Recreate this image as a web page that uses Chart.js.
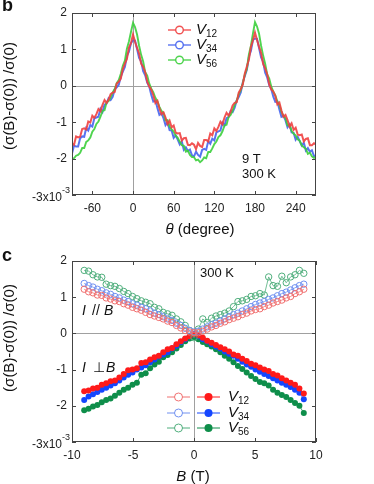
<!DOCTYPE html>
<html>
<head>
<meta charset="utf-8">
<script src="https://cdn.jsdelivr.net/npm/chart.js@4.4.0/dist/chart.umd.min.js"></script>
<style>
  html, body { margin: 0; padding: 0; background: #fff; }
  #wrap { position: relative; width: 374px; height: 484px; }
  canvas { position: absolute; left: 0; }
</style>
</head>
<body>
<div id="wrap">
  <canvas id="chartB" width="374" height="242" style="top:0"></canvas>
  <canvas id="chartC" width="374" height="242" style="top:242px"></canvas>
</div>
<script>
// panel b : angle sweep at 9 T
const thetaDeg = [
  -90,-87,-84,-81,-78,-75,-72,-69,-66,-63,
  -60,-57,-54,-51,-48,-45,-42,-39,-36,-33,
  -30,-27,-24,-21,-18,-15,-12,-9,-6,-3,
  0,3,6,9,12,15,18,21,24,27,
  30,33,36,39,42,45,48,51,54,57,
  60,63,66,69,72,75,78,81,84,87,
  90,93,96,99,102,105,108,111,114,117,
  120,123,126,129,132,135,138,141,144,147,
  150,153,156,159,162,165,168,171,174,177,
  180,183,186,189,192,195,198,201,204,207,
  210,213,216,219,222,225,228,231,234,237,
  240,243,246,249,252,255,258,261,264,267,
  270];
const v12Theta = [
  -1.58,-1.62,-1.39,-1.42,-1.40,-1.19,-1.17,-1.20,-0.98,-1.01,
  -0.82,-0.88,-0.78,-0.64,-0.70,-0.52,-0.39,-0.47,-0.38,-0.23,
  -0.19,-0.17,0.06,0.11,0.20,0.46,0.61,0.74,1.05,1.17,
  1.41,1.21,1.04,0.89,0.61,0.52,0.38,0.11,-0.02,-0.11,
  -0.26,-0.47,-0.41,-0.62,-0.78,-0.73,-0.87,-1.05,-0.96,-1.14,
  -1.09,-1.29,-1.31,-1.30,-1.50,-1.44,-1.43,-1.62,-1.63,-1.58,
  -1.62,-1.74,-1.57,-1.65,-1.68,-1.49,-1.49,-1.53,-1.31,-1.36,
  -1.17,-1.24,-1.13,-0.99,-1.06,-0.87,-0.74,-0.82,-0.71,-0.54,
  -0.47,-0.45,-0.19,-0.09,0.04,0.34,0.53,0.72,1.07,1.25,
  1.46,1.26,1.07,0.90,0.60,0.48,0.32,0.04,-0.10,-0.16,
  -0.28,-0.51,-0.46,-0.68,-0.85,-0.80,-0.94,-1.12,-1.03,-1.21,
  -1.15,-1.34,-1.36,-1.34,-1.53,-1.46,-1.44,-1.63,-1.63,-1.58,
  -1.61];
const v34Theta = [
  -1.86,-1.64,-1.67,-1.67,-1.44,-1.39,-1.40,-1.16,-1.23,-1.08,
  -1.12,-0.89,-0.87,-0.85,-0.63,-0.72,-0.52,-0.49,-0.34,-0.39,
  -0.30,-0.10,-0.04,0.03,0.25,0.39,0.52,0.82,0.94,1.17,
  1.25,1.24,1.01,0.77,0.67,0.40,0.29,0.09,-0.02,-0.25,
  -0.43,-0.40,-0.61,-0.80,-0.76,-0.89,-1.08,-1.00,-1.22,-1.23,
  -1.43,-1.36,-1.48,-1.61,-1.53,-1.76,-1.69,-1.79,-1.75,-1.91,
  -1.94,-1.81,-1.90,-1.95,-1.76,-1.73,-1.76,-1.52,-1.59,-1.45,
  -1.50,-1.28,-1.25,-1.23,-1.01,-1.09,-0.89,-0.86,-0.69,-0.72,
  -0.60,-0.40,-0.31,-0.18,0.09,0.27,0.44,0.80,0.96,1.26,
  1.30,1.29,1.04,0.78,0.66,0.36,0.23,0.02,-0.09,-0.30,
  -0.44,-0.43,-0.65,-0.85,-0.82,-0.95,-1.14,-1.06,-1.28,-1.29,
  -1.48,-1.40,-1.52,-1.64,-1.56,-1.78,-1.71,-1.81,-1.77,-1.93,
  -1.92];
const v56Theta = [
  -2.00,-1.99,-1.92,-1.90,-1.84,-1.71,-1.71,-1.54,-1.50,-1.42,
  -1.26,-1.19,-1.05,-0.98,-0.85,-0.69,-0.67,-0.46,-0.42,-0.32,
  -0.18,-0.09,0.07,0.16,0.33,0.55,0.69,1.02,1.22,1.48,
  1.73,1.61,1.41,1.10,0.85,0.67,0.37,0.28,0.06,-0.08,
  -0.18,-0.33,-0.43,-0.58,-0.69,-0.75,-0.95,-0.94,-1.12,-1.20,
  -1.26,-1.37,-1.43,-1.54,-1.63,-1.65,-1.81,-1.78,-1.90,-1.96,
  -1.96,-2.05,-2.03,-2.10,-2.05,-1.97,-1.99,-1.82,-1.82,-1.72,
  -1.60,-1.53,-1.41,-1.36,-1.25,-1.09,-1.07,-0.86,-0.80,-0.68,
  -0.52,-0.41,-0.23,-0.12,0.07,0.31,0.47,0.86,1.10,1.44,
  1.75,1.63,1.43,1.10,0.83,0.61,0.31,0.20,-0.02,-0.16,
  -0.26,-0.43,-0.53,-0.72,-0.83,-0.89,-1.09,-1.08,-1.24,-1.32,
  -1.36,-1.47,-1.51,-1.64,-1.69,-1.73,-1.87,-1.84,-1.94,-1.98,
  -1.96];

// panel c : field sweep at 300 K
const fieldT = [
  -9,-8.64,-8.28,-7.92,-7.56,-7.2,-6.84,-6.48,-6.12,-5.76,
  -5.4,-5.04,-4.68,-4.32,-3.96,-3.6,-3.24,-2.88,-2.52,-2.16,
  -1.8,-1.44,-1.08,-0.72,-0.36,0,0.36,0.72,1.08,1.44,
  1.8,2.16,2.52,2.88,3.24,3.6,3.96,4.32,4.68,5.04,
  5.4,5.76,6.12,6.48,6.84,7.2,7.56,7.92,8.28,8.64,
  9];
// I // B (open symbols)
const v12Par = [
  1.22,1.15,1.12,1.06,1.05,0.98,0.95,0.90,0.88,0.82,
  0.78,0.72,0.68,0.64,0.58,0.52,0.48,0.44,0.40,0.34,
  0.30,0.22,0.15,0.08,0.04,0.02,0.02,0.06,0.12,0.18,
  0.22,0.28,0.32,0.38,0.42,0.46,0.52,0.56,0.62,0.66,
  0.68,0.74,0.78,0.84,0.88,0.92,0.98,1.02,1.10,1.15,
  1.22];
const v34Par = [
  1.38,1.32,1.28,1.22,1.18,1.12,1.08,1.02,0.98,0.92,
  0.88,0.82,0.78,0.72,0.68,0.62,0.56,0.52,0.46,0.40,
  0.36,0.28,0.22,0.14,0.08,0.04,0.06,0.12,0.18,0.24,
  0.28,0.34,0.40,0.46,0.52,0.56,0.62,0.68,0.74,0.80,
  0.84,0.88,0.94,0.98,1.04,1.10,1.14,1.20,1.26,1.32,
  1.36];
const v56Par = [
  1.74,1.72,1.62,1.56,1.55,1.36,1.32,1.30,1.24,1.16,
  1.10,1.02,0.96,0.90,0.86,0.82,0.72,0.68,0.58,0.54,
  0.50,0.40,0.32,0.22,0.08,-0.12,0.12,0.40,0.30,0.42,
  0.48,0.52,0.56,0.62,0.74,0.88,0.90,0.94,1.02,1.04,
  1.10,1.06,1.56,1.32,1.30,1.58,1.40,1.56,1.62,1.74,
  1.66];
// I ⊥ B (filled symbols)
const v12Perp = [
  -1.60,-1.58,-1.52,-1.50,-1.42,-1.38,-1.32,-1.30,-1.22,-1.12,
  -1.02,-1.00,-0.96,-0.82,-0.80,-0.72,-0.66,-0.62,-0.52,-0.44,
  -0.40,-0.30,-0.22,-0.14,-0.08,-0.02,-0.06,-0.12,-0.20,-0.26,
  -0.32,-0.38,-0.44,-0.50,-0.58,-0.62,-0.70,-0.76,-0.84,-0.88,
  -0.94,-1.00,-1.04,-1.12,-1.16,-1.24,-1.30,-1.36,-1.42,-1.52,
  -1.66];
const v34Perp = [
  -1.84,-1.74,-1.68,-1.62,-1.56,-1.50,-1.44,-1.38,-1.30,-1.22,
  -1.14,-1.08,-1.00,-0.94,-0.88,-0.80,-0.72,-0.64,-0.58,-0.52,
  -0.42,-0.34,-0.24,-0.16,-0.08,-0.02,-0.08,-0.16,-0.22,-0.30,
  -0.36,-0.42,-0.50,-0.56,-0.62,-0.70,-0.78,-0.86,-0.92,-1.00,
  -1.06,-1.12,-1.18,-1.24,-1.30,-1.36,-1.42,-1.48,-1.56,-1.64,
  -1.82];
const v56Perp = [
  -2.12,-2.08,-2.02,-1.98,-1.90,-1.84,-1.80,-1.72,-1.64,-1.56,
  -1.50,-1.42,-1.36,-1.14,-1.10,-0.96,-0.86,-0.78,-0.66,-0.60,
  -0.52,-0.42,-0.32,-0.22,-0.14,-0.10,-0.16,-0.24,-0.30,-0.36,
  -0.44,-0.52,-0.62,-0.70,-0.80,-0.90,-0.98,-1.08,-1.18,-1.26,
  -1.34,-1.38,-1.44,-1.56,-1.64,-1.70,-1.76,-1.84,-1.92,-2.00,
  -2.20];

const thetaTicks = [-60, 0, 60, 120, 180, 240];
const fieldTicks = [-10, -5, 0, 5, 10];
const sigmaTicks = [-3, -2, -1, 0, 1, 2];
const seriesNames = ['12', '34', '56'];

const FONT = '"Liberation Sans", Arial, sans-serif';
Chart.defaults.font.family = FONT;
Chart.defaults.font.size = 12;
Chart.defaults.color = '#222';

const lineB = ['rgba(240,64,64,0.9)', 'rgba(70,100,238,0.9)', 'rgba(60,207,60,0.9)'];
const openC = ['#f07070', '#7090f0', '#4fae7c'];
const fullC = ['#ff1a1a', '#1446ff', '#0e8e4a'];

function pts(xs, ys) {
  return xs.map((x, i) => ({ x: x, y: ys[i] }));
}

function drawV(ctx, x, y, sub) {
  ctx.textAlign = 'left';
  ctx.textBaseline = 'middle';
  ctx.font = 'italic 15px ' + FONT;
  ctx.fillText('V', x, y);
  const w = ctx.measureText('V').width;
  ctx.font = '10px ' + FONT;
  ctx.fillText(sub, x + w, y + 4);
}

function drawMinus3(ctx, a) {
  ctx.textAlign = 'right';
  ctx.textBaseline = 'middle';
  ctx.font = '12px ' + FONT;
  ctx.fillText('-3x10', 62, a.bottom + 3);
  ctx.textAlign = 'left';
  ctx.font = '9px ' + FONT;
  ctx.fillText('-3', 62, a.bottom - 4);
}

function drawYTitle(ctx, cy) {
  ctx.save();
  ctx.translate(10, cy);
  ctx.rotate(-Math.PI / 2);
  ctx.textAlign = 'center';
  ctx.textBaseline = 'middle';
  ctx.font = '15px ' + FONT;
  ctx.fillText('(\u03c3(B)-\u03c3(0)) /\u03c3(0)', 0, 0);
  ctx.restore();
}

function framePlugin(xTicks, yTicks, extras) {
  return {
    id: 'frame',
    beforeDatasetsDraw(chart) {
      const { ctx, chartArea: a, scales } = chart;
      const x0 = Math.round(scales.x.getPixelForValue(0)) + 0.5;
      const y0 = Math.round(scales.y.getPixelForValue(0)) + 0.5;
      ctx.save();
      ctx.strokeStyle = '#a0a0a0';
      ctx.lineWidth = 1;
      ctx.beginPath();
      ctx.moveTo(a.left, y0); ctx.lineTo(a.right, y0);
      ctx.moveTo(x0, a.top); ctx.lineTo(x0, a.bottom);
      ctx.stroke();
      ctx.restore();
    },
    afterDraw(chart) {
      const { ctx, chartArea: a, scales } = chart;
      ctx.save();
      ctx.strokeStyle = '#444';
      ctx.lineWidth = 1;
      ctx.strokeRect(a.left + 0.5, a.top + 0.5, a.right - a.left - 1, a.bottom - a.top - 1);
      ctx.beginPath();
      xTicks.forEach(v => {
        const px = Math.round(scales.x.getPixelForValue(v)) + 0.5;
        ctx.moveTo(px, a.bottom); ctx.lineTo(px, a.bottom - 4);
        ctx.moveTo(px, a.top); ctx.lineTo(px, a.top + 4);
      });
      yTicks.forEach(v => {
        const py = Math.round(scales.y.getPixelForValue(v)) + 0.5;
        ctx.moveTo(a.left, py); ctx.lineTo(a.left + 4, py);
        ctx.moveTo(a.right, py); ctx.lineTo(a.right - 4, py);
      });
      ctx.stroke();
      ctx.fillStyle = '#222';
      drawMinus3(ctx, a);
      extras(ctx, chart);
      ctx.restore();
    }
  };
}

function axes(xMin, xMax, xTicks, xHeight) {
  return {
    x: {
      type: 'linear', min: xMin, max: xMax,
      afterBuildTicks: s => { s.ticks = xTicks.map(v => ({ value: v })); },
      afterFit: s => { s.height = xHeight; },
      grid: { display: false, drawTicks: false },
      border: { display: false },
      ticks: { padding: 6, autoSkip: false, maxRotation: 0 }
    },
    y: {
      type: 'linear', min: -3, max: 2,
      afterBuildTicks: s => { s.ticks = sigmaTicks.map(v => ({ value: v })); },
      afterFit: s => { s.width = 72; },
      grid: { display: false, drawTicks: false },
      border: { display: false },
      ticks: { padding: 5, autoSkip: false, callback: v => (v === -3 ? '' : v) }
    }
  };
}

// ---- panel b ----
const thetaSets = [v12Theta, v34Theta, v56Theta].map((ys, i) => ({
  data: pts(thetaDeg, ys),
  showLine: true,
  borderColor: lineB[i],
  borderWidth: i === 2 ? 1.9 : 2,
  pointRadius: 0
}));

new Chart(document.getElementById('chartB'), {
  type: 'scatter',
  data: { datasets: [thetaSets[0], thetaSets[2], thetaSets[1]] },
  options: {
    responsive: false,
    animation: false,
    events: [],
    layout: { padding: { top: 13, right: 58, left: 0, bottom: 0 } },
    plugins: { legend: { display: false }, tooltip: { enabled: false } },
    scales: axes(-90, 270, thetaTicks, 47)
  },
  plugins: [framePlugin(thetaTicks, sigmaTicks, (ctx, chart) => {
    ctx.fillStyle = '#111';
    ctx.textAlign = 'left';
    ctx.textBaseline = 'alphabetic';
    ctx.font = 'bold 18px ' + FONT;
    ctx.fillText('b', 2, 11);

    drawYTitle(ctx, 96);

    // x title
    ctx.textBaseline = 'middle';
    ctx.font = 'italic 15px ' + FONT;
    const w1 = ctx.measureText('\u03b8').width;
    ctx.font = '15px ' + FONT;
    const w2 = ctx.measureText(' (degree)').width;
    let x = 200 - (w1 + w2) / 2;
    ctx.font = 'italic 15px ' + FONT;
    ctx.fillText('\u03b8', x, 230);
    ctx.font = '15px ' + FONT;
    ctx.fillText(' (degree)', x + w1, 230);

    ctx.font = '13px ' + FONT;
    ctx.fillText('9 T', 242, 159);
    ctx.fillText('300 K', 242, 174);

    // legend
    [30, 45, 60].forEach((yy, i) => {
      ctx.strokeStyle = lineB[i];
      ctx.lineWidth = 1.4;
      ctx.beginPath();
      ctx.moveTo(168, yy); ctx.lineTo(191, yy);
      ctx.stroke();
      ctx.fillStyle = '#fff';
      ctx.beginPath();
      ctx.arc(179.5, yy, 3.8, 0, Math.PI * 2);
      ctx.fill();
      ctx.stroke();
      ctx.fillStyle = '#111';
      drawV(ctx, 196, yy, seriesNames[i]);
    });
  })]
});

// ---- panel c ----
const openSets = [v12Par, v34Par, v56Par].map((ys, i) => ({
  data: pts(fieldT, ys),
  showLine: true,
  borderColor: openC[i],
  borderWidth: 0.8,
  pointRadius: 3.2,
  pointBorderWidth: 1,
  pointBorderColor: openC[i],
  pointBackgroundColor: 'rgba(255,255,255,0)'
}));
const fullSets = [v12Perp, v34Perp, v56Perp].map((ys, i) => ({
  data: pts(fieldT, ys),
  showLine: true,
  borderColor: fullC[i],
  borderWidth: 0.8,
  pointRadius: 3,
  pointBorderWidth: 0,
  pointBackgroundColor: fullC[i]
}));

new Chart(document.getElementById('chartC'), {
  type: 'scatter',
  data: { datasets: openSets.concat(fullSets) },
  options: {
    responsive: false,
    animation: false,
    events: [],
    layout: { padding: { top: 19, right: 58, left: 0, bottom: 0 } },
    plugins: { legend: { display: false }, tooltip: { enabled: false } },
    scales: axes(-10, 10, fieldTicks, 42)
  },
  plugins: [framePlugin(fieldTicks, sigmaTicks, (ctx, chart) => {
    ctx.fillStyle = '#111';
    ctx.textAlign = 'left';
    ctx.textBaseline = 'alphabetic';
    ctx.font = 'bold 18px ' + FONT;
    ctx.fillText('c', 2, 19);

    drawYTitle(ctx, 96);

    // x title
    ctx.textBaseline = 'middle';
    ctx.font = 'italic 15px ' + FONT;
    const w1 = ctx.measureText('B').width;
    ctx.font = '15px ' + FONT;
    const w2 = ctx.measureText(' (T)').width;
    let x = 193 - (w1 + w2) / 2;
    ctx.font = 'italic 15px ' + FONT;
    ctx.fillText('B', x, 235);
    ctx.font = '15px ' + FONT;
    ctx.fillText(' (T)', x + w1, 235);

    ctx.font = '13px ' + FONT;
    ctx.fillText('300 K', 200, 31);

    ctx.font = 'italic 14px ' + FONT;
    ctx.fillText('I', 82, 69);
    ctx.fillText('I', 82, 126);
    ctx.font = '14px ' + FONT;
    ctx.fillText('//', 92, 69);
    ctx.fillText('\u22a5', 93, 126);
    ctx.font = 'italic 14px ' + FONT;
    ctx.fillText('B', 104, 69);
    ctx.fillText('B', 106, 126);

    // legend
    [155, 171, 186].forEach((yy, i) => {
      ctx.lineWidth = 1;
      ctx.strokeStyle = openC[i];
      ctx.beginPath();
      ctx.moveTo(167, yy); ctx.lineTo(190, yy);
      ctx.stroke();
      ctx.fillStyle = '#fff';
      ctx.beginPath();
      ctx.arc(178.5, yy, 4, 0, Math.PI * 2);
      ctx.fill();
      ctx.stroke();

      ctx.strokeStyle = fullC[i];
      ctx.beginPath();
      ctx.moveTo(197, yy); ctx.lineTo(220, yy);
      ctx.stroke();
      ctx.fillStyle = fullC[i];
      ctx.beginPath();
      ctx.arc(208.5, yy, 4, 0, Math.PI * 2);
      ctx.fill();

      ctx.fillStyle = '#111';
      drawV(ctx, 228, yy, seriesNames[i]);
    });
  })]
});
</script>
</body>
</html>
